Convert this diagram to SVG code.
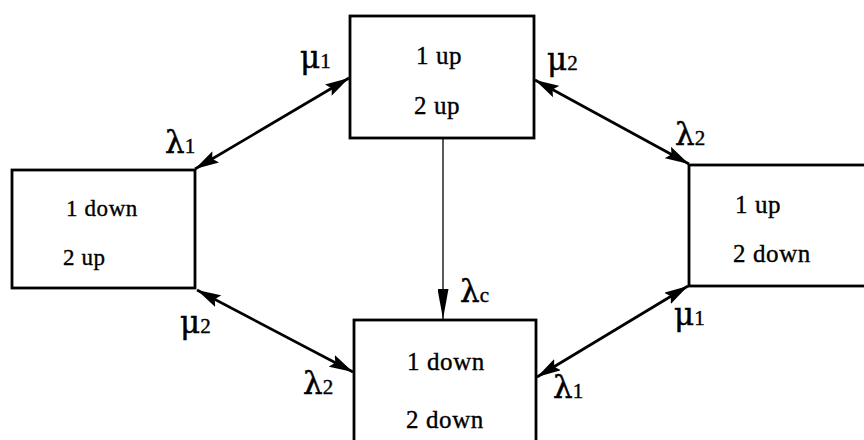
<svg xmlns="http://www.w3.org/2000/svg" width="864" height="440" viewBox="0 0 864 440">
  <style>
    .box { fill: #ffffff; stroke: #000000; stroke-width: 2.8; }
    .state { font-family: "Liberation Serif", "Times New Roman", serif; font-size: 25px; letter-spacing: 0.6px; fill: #000000; stroke: #000000; stroke-width: 0.35; }
    .state.small { font-size: 23px; }
    .rate { font-family: "DejaVu Serif", "Liberation Serif", serif; font-size: 31px; fill: #000000; stroke: #000000; stroke-width: 0.5; }
    .rate .sub { font-family: "Liberation Serif", "Times New Roman", serif; font-size: 21px; stroke-width: 0.4; }
    .link { stroke: #000000; stroke-width: 2.7; fill: none; marker-start: url(#head); marker-end: url(#head); }
    .fail { stroke: #000000; stroke-width: 1.3; fill: none; marker-end: url(#headNarrow); }
  </style>
  <defs>
    <marker id="head" markerUnits="userSpaceOnUse" markerWidth="24" markerHeight="13" refX="24" refY="6.5" orient="auto-start-reverse" viewBox="0 0 24 13">
      <path d="M0,0 L24,6.5 L0,13 L4,6.5 z" fill="#000000"/>
    </marker>
    <marker id="headNarrow" markerUnits="userSpaceOnUse" markerWidth="30" markerHeight="11" refX="30" refY="5.5" orient="auto" viewBox="0 0 30 11">
      <path d="M0,0 L30,5.5 L0,11 z" fill="#000000"/>
    </marker>
  </defs>

  <rect width="864" height="440" fill="#ffffff"/>

  <!-- transitions between states -->
  <g id="connectors">
    <line class="link" x1="195" y1="169" x2="349" y2="78"/>
    <line class="link" x1="535" y1="80" x2="689" y2="164"/>
    <line class="link" x1="197" y1="290" x2="353" y2="372"/>
    <line class="link" x1="688" y1="286" x2="537" y2="377"/>
    <line class="fail" x1="443" y1="138" x2="443" y2="319"/>
  </g>

  <!-- state: both units up -->
  <g id="node-1up-2up">
    <rect class="box" x="350" y="16" width="184" height="122"/>
    <text class="state" x="416" y="64">1 up</text>
    <text class="state" x="414" y="114">2 up</text>
  </g>

  <!-- state: unit 1 down, unit 2 up -->
  <g id="node-1down-2up">
    <rect class="box" x="12" y="170" width="183" height="118"/>
    <text class="state small" x="66" y="216">1 down</text>
    <text class="state small" x="63" y="265">2 up</text>
  </g>

  <!-- state: unit 1 up, unit 2 down -->
  <g id="node-1up-2down">
    <rect class="box" x="689" y="165" width="200" height="121"/>
    <text class="state" x="735" y="213">1 up</text>
    <text class="state" x="733" y="262">2 down</text>
  </g>

  <!-- state: both units down -->
  <g id="node-1down-2down">
    <rect class="box" x="354" y="320" width="182" height="140"/>
    <text class="state" x="407" y="370">1 down</text>
    <text class="state" x="406" y="428">2 down</text>
  </g>

  <!-- rate labels -->
  <g id="labels">
    <text class="rate" x="300" y="68">μ<tspan class="sub">1</tspan></text>
    <text class="rate" x="165" y="153">λ<tspan class="sub">1</tspan></text>
    <text class="rate" x="547" y="70">μ<tspan class="sub">2</tspan></text>
    <text class="rate" x="675" y="145">λ<tspan class="sub">2</tspan></text>
    <text class="rate" x="180" y="333">μ<tspan class="sub">2</tspan></text>
    <text class="rate" x="303" y="394">λ<tspan class="sub">2</tspan></text>
    <text class="rate" x="460" y="302">λ<tspan class="sub">c</tspan></text>
    <text class="rate" x="674" y="325">μ<tspan class="sub">1</tspan></text>
    <text class="rate" x="553" y="398">λ<tspan class="sub">1</tspan></text>
  </g>
</svg>
